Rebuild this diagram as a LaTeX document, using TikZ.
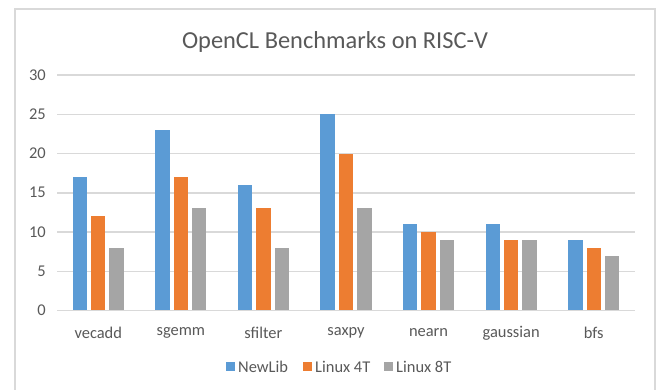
\documentclass[tikz,border=0pt]{standalone}
\usepackage{fontspec}
\setmainfont{Carlito}
\definecolor{cblue}{HTML}{5B9BD5}
\definecolor{corange}{HTML}{ED7D31}
\definecolor{cgray}{HTML}{A5A5A5}
\definecolor{gridc}{HTML}{D9D9D9}
\definecolor{txtc}{HTML}{595959}
\begin{document}
\begin{tikzpicture}[x=1bp,y=-1bp,
  lbl/.style={inner sep=0pt, text=txtc, font=\fontsize{16.5}{18}\selectfont},
  gridline/.style={draw=gridc, line width=1.5bp},
  barstyle/.style={line width=0pt}]
\useasboundingbox (0,0) rectangle (656,389);
\fill[white] (0,0) rectangle (656,389);
\draw[gridc, line width=1.5bp] (15,392) -- (15,9) -- (655,9) -- (655,392);
\node[inner sep=0pt, text=txtc, font=\fontsize{24.5}{28}\selectfont] (title) at (335,42) {OpenCL Benchmarks on RISC-V};
% grid and y labels
\foreach \v in {0,...,6} {
  \pgfmathsetmacro{\yy}{310.5-\v*39.25}
  \pgfmathtruncatemacro{\val}{\v*5}
  \draw[gridline] (57,\yy) -- (635,\yy);
  \node[lbl, anchor=east] (y\v) at (46,\yy) {\val};
}
% bars
\foreach \name/\a/\b/\c [count=\i from 0] in {vecadd/17/12/8, sgemm/23/17/13, sfilter/16/13/8, saxpy/25/20/13, nearn/11/10/9, gaussian/11/9/9, bfs/9/8/7} {
  \pgfmathsetmacro{\cx}{57+82.57*(\i+0.5)}
  \fill[cblue]   ({\cx-18.4-7.2},310.5) rectangle ({\cx-18.4+7.2},{310.5-\a*7.85});
  \fill[corange] ({\cx-7.2},310.5) rectangle ({\cx+7.2},{310.5-\b*7.85});
  \fill[cgray]   ({\cx+18.4-7.2},310.5) rectangle ({\cx+18.4+7.2},{310.5-\c*7.85});
  \node[lbl] (cat\i) at (\cx,333) {\name};
}
\draw[gridline] (57,310.5) -- (635,310.5);
% legend
\fill[cblue] (226,362) rectangle (235,371);
\node[lbl, anchor=west] (lg1) at (238,366.5) {NewLib};
\fill[corange] (303,362) rectangle (312,371);
\node[lbl, anchor=west] (lg2) at (315,366.5) {Linux 4T};
\fill[cgray] (384,362) rectangle (393,371);
\node[lbl, anchor=west] (lg3) at (396,366.5) {Linux 8T};
\end{tikzpicture}
\end{document}
